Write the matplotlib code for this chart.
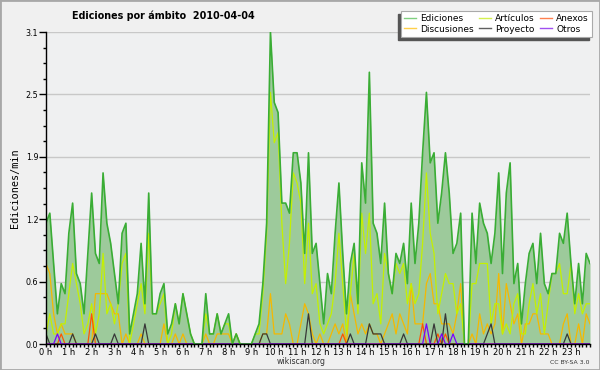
import numpy as np
import matplotlib.pyplot as plt
from matplotlib.lines import Line2D
from matplotlib.patches import Rectangle
from matplotlib.ticker import AutoMinorLocator, MultipleLocator

# edits per minute, one value every 10 minutes (144 values, 00:00 -> 23:50)
ediciones = [1.2, 1.3, 0.8, 0.3, 0.6, 0.5, 1.1, 1.4, 0.7, 0.6, 0.3, 0.9,
             1.5, 0.9, 0.8, 1.7, 1.2, 1.0, 0.7, 0.4, 1.1, 1.2, 0.1, 0.3,
             0.5, 1.0, 0.4, 1.5, 0.3, 0.3, 0.5, 0.6, 0.1, 0.2, 0.4, 0.2,
             0.5, 0.3, 0.1, 0.0, 0.0, 0.0, 0.5, 0.1, 0.1, 0.3, 0.1, 0.2,
             0.3, 0.0, 0.1, 0.0, 0.0, 0.0, 0.0, 0.1, 0.2, 0.6, 1.2, 3.1,
             2.4, 2.3, 1.4, 1.4, 1.3, 1.9, 1.9, 1.6, 0.9, 1.9, 0.9, 1.0,
             0.6, 0.2, 0.7, 0.5, 1.1, 1.6, 0.9, 0.3, 0.8, 1.0, 0.4, 1.8,
             1.4, 2.7, 1.2, 1.1, 0.8, 1.4, 0.7, 0.5, 0.9, 0.8, 1.0, 0.6,
             1.4, 0.8, 1.2, 1.9, 2.5, 1.8, 1.9, 1.2, 1.5, 1.9, 1.5, 0.9,
             1.0, 1.3, 0.0, 0.0, 1.3, 0.8, 1.4, 1.2, 1.1, 0.8, 1.1, 1.7,
             0.7, 1.5, 1.8, 0.6, 0.8, 0.2, 0.6, 0.9, 1.0, 0.6, 1.1, 0.6,
             0.5, 0.7, 0.7, 1.1, 1.0, 1.3, 0.8, 0.4, 0.8, 0.4, 0.9, 0.8]
articulos = [0.1, 0.3, 0.1, 0.1, 0.2, 0.2, 0.5, 0.8, 0.6, 0.4, 0.1, 0.2,
             0.4, 0.1, 0.3, 0.9, 0.3, 0.4, 0.2, 0.4, 0.8, 0.9, 0.0, 0.2,
             0.4, 0.6, 0.3, 1.1, 0.3, 0.3, 0.4, 0.5, 0.0, 0.1, 0.4, 0.2,
             0.5, 0.3, 0.1, 0.0, 0.0, 0.0, 0.3, 0.1, 0.1, 0.3, 0.1, 0.2,
             0.2, 0.0, 0.1, 0.0, 0.0, 0.0, 0.0, 0.1, 0.1, 0.5, 1.1, 2.5,
             2.0, 2.1, 1.2, 0.6, 1.0, 1.7, 1.6, 1.4, 0.6, 1.2, 0.5, 0.6,
             0.2, 0.1, 0.2, 0.3, 0.6, 1.1, 0.6, 0.1, 0.5, 0.9, 0.3, 1.3,
             0.9, 1.3, 0.4, 0.5, 0.2, 0.9, 0.7, 0.5, 0.8, 0.7, 0.8, 0.4,
             0.6, 0.4, 0.5, 1.0, 1.7, 1.1, 0.9, 0.3, 0.5, 0.7, 0.6, 0.6,
             0.3, 0.4, 0.0, 0.0, 0.6, 0.6, 0.8, 0.8, 0.8, 0.2, 0.4, 0.4,
             0.1, 0.2, 0.1, 0.4, 0.5, 0.1, 0.1, 0.4, 0.6, 0.3, 0.5, 0.1,
             0.4, 0.7, 0.7, 0.8, 0.5, 0.5, 0.8, 0.3, 0.5, 0.3, 0.4, 0.4]
discusiones = [0.8, 0.7, 0.3, 0.1, 0.2, 0.1, 0.1, 0.1, 0.0, 0.0, 0.0, 0.0,
               0.0, 0.5, 0.5, 0.5, 0.5, 0.4, 0.3, 0.3, 0.0, 0.1, 0.0, 0.0,
               0.0, 0.1, 0.0, 0.0, 0.0, 0.0, 0.0, 0.2, 0.0, 0.0, 0.1, 0.0,
               0.1, 0.0, 0.0, 0.0, 0.0, 0.0, 0.1, 0.0, 0.0, 0.1, 0.1, 0.1,
               0.1, 0.0, 0.1, 0.0, 0.0, 0.0, 0.0, 0.0, 0.0, 0.1, 0.1, 0.5,
               0.1, 0.1, 0.1, 0.3, 0.2, 0.0, 0.0, 0.2, 0.4, 0.3, 0.1, 0.0,
               0.1, 0.0, 0.0, 0.1, 0.2, 0.1, 0.2, 0.0, 0.5, 0.3, 0.1, 0.2,
               0.1, 0.2, 0.1, 0.1, 0.0, 0.1, 0.2, 0.3, 0.1, 0.3, 0.2, 0.1,
               0.6, 0.2, 0.2, 0.2, 0.6, 0.7, 0.4, 0.4, 0.2, 0.2, 0.2, 0.1,
               0.3, 0.6, 0.0, 0.0, 0.1, 0.0, 0.3, 0.1, 0.2, 0.1, 0.2, 0.7,
               0.1, 0.6, 0.4, 0.2, 0.3, 0.0, 0.2, 0.2, 0.3, 0.3, 0.1, 0.1,
               0.1, 0.0, 0.0, 0.0, 0.2, 0.3, 0.0, 0.0, 0.2, 0.0, 0.3, 0.2]
# sparse series: {slot index: value}, zero elsewhere
proyecto_pts = {0: 0.1, 7: 0.1, 13: 0.1, 18: 0.1, 26: 0.2, 57: 0.1, 58: 0.1,
                69: 0.3, 80: 0.1, 85: 0.2, 86: 0.1, 87: 0.1, 88: 0.1, 94: 0.1,
                102: 0.2, 105: 0.3, 116: 0.1, 117: 0.2, 137: 0.1}
anexos_pts = {4: 0.1, 12: 0.3, 78: 0.1, 99: 0.2, 103: 0.1, 105: 0.1}
otros_pts = {3: 0.1, 100: 0.2, 104: 0.1, 107: 0.1}

hour_labels = ['%d h' % h for h in range(24)]
legend_labels = ['Ediciones', 'Discusiones', 'Artículos', 'Proyecto', 'Anexos', 'Otros']


def sparse(pts, n):
    out = np.zeros(n)
    for k, v in pts.items():
        out[k] = v
    return out


n = len(ediciones)
x = np.arange(n) / 6.0
proyecto = sparse(proyecto_pts, n)
anexos = sparse(anexos_pts, n)
otros = sparse(otros_pts, n)

fig = plt.figure(figsize=(6, 3.7), dpi=100, facecolor='#f0f0f0')
ax = fig.add_axes([46 / 600, 26 / 370, 544 / 600, 312 / 370])
ax.set_facecolor('#eff0f1')

ax.fill_between(x, ediciones, 0, color='#9dca9b', lw=0, zorder=2)
ax.plot(x, discusiones, color='#f5b800', lw=0.9, zorder=3)
ax.plot(x, articulos, color='#c4f000', lw=0.9, zorder=3)
ax.plot(x, anexos, color='#ff5500', lw=0.9, zorder=3)
ax.plot(x, proyecto, color='#383838', lw=0.9, zorder=3)
ax.plot(x, otros, color='#7a00ff', lw=0.9, zorder=3)
ax.plot(x, ediciones, color='#3aad35', lw=1.2, zorder=4)

ax.set_xlim(0, x[-1])
ax.set_ylim(0, 3.1)
yt = np.linspace(0, 3.1, 6)
ax.set_yticks(yt)
ax.set_yticklabels(['%.1f' % v for v in yt])
ax.yaxis.set_minor_locator(AutoMinorLocator(4))
ax.set_xticks(range(24))
ax.set_xticklabels(hour_labels)
ax.xaxis.set_minor_locator(MultipleLocator(1 / 6))
ax.tick_params(axis='y', which='major', length=5, width=1, pad=0.5, labelsize=5.8)
ax.tick_params(axis='y', which='minor', length=2.5, width=1)
ax.tick_params(axis='x', which='both', length=2.2, width=1, pad=1, labelsize=6)
ax.yaxis.grid(True, color='#c8c8c8', lw=1)
ax.set_axisbelow(True)
for s in ['top', 'right']:
    ax.spines[s].set_visible(False)
for s in ['left', 'bottom']:
    ax.spines[s].set_linewidth(1)
    ax.spines[s].set_zorder(5)

ax.set_ylabel('Ediciones/min', family='DejaVu Sans Mono', fontsize=7.3, labelpad=4)

fig.text(163.5 / 600, 1 - 16 / 370, 'Ediciones por ámbito  2010-04-04',
         ha='center', va='center', fontsize=6.9, fontweight='bold')
fig.text(301 / 600, 1 - 361.5 / 370, 'wikiscan.org', ha='center', va='center',
         fontsize=5.6, color='#333333')
fig.text(589 / 600, 1 - 362 / 370, 'CC BY-SA 3.0', ha='right', va='center',
         fontsize=4.4, color='#333333')

leg_colors = ['#80d080', '#ffd04a', '#d4f050', '#606060', '#ff8050', '#a050f0']
handles = [Line2D([], [], color=c, lw=1) for c in leg_colors]
leg = fig.legend(handles, legend_labels, ncol=3, loc='upper right',
                 bbox_to_anchor=(592 / 600, 1 - 11 / 370), fontsize=6.5,
                 frameon=True, fancybox=False, framealpha=1, edgecolor='#aaaaaa',
                 handlelength=1.4, handletextpad=0.45, columnspacing=0.5,
                 labelspacing=0.15, borderpad=0.35, borderaxespad=0)
leg.get_frame().set_linewidth(0.8)
leg.set_zorder(5)

fig.canvas.draw()
bb = leg.get_window_extent().transformed(fig.transFigure.inverted())
fig.patches.append(Rectangle((bb.x0 - 3 / 600, bb.y0 - 3 / 370), bb.width, bb.height,
                             transform=fig.transFigure, color='#555555', zorder=4))
fig.patches.append(Rectangle((0, 0), 1, 1, transform=fig.transFigure, fill=False,
                             ec='#a8a8a8', lw=2, zorder=10))

fig.savefig('out.png', dpi=100, facecolor=fig.get_facecolor())
